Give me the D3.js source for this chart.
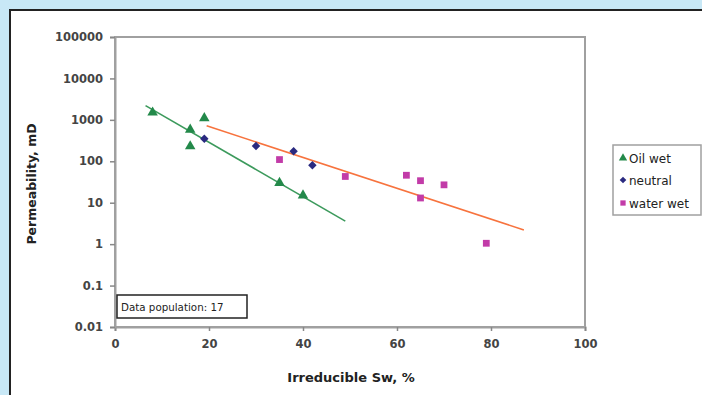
<!DOCTYPE html>
<html><head><meta charset="utf-8">
<script src="https://cdn.jsdelivr.net/npm/d3@7"></script>
<style>body{margin:0;background:#c8e8f6;}svg{display:block;}</style>
</head><body>
<svg id="chart" width="702" height="395"></svg>
<script>
const oilWetX = [8, 16, 16, 19, 35, 40];
const oilWetY = [1500, 580, 230, 1100, 30, 15];
const neutralX = [19, 30, 38, 42];
const neutralY = [350, 235, 175, 80];
const waterWetX = [35, 49, 62, 65, 65, 70, 79];
const waterWetY = [110, 43, 46, 34, 13, 27, 1.05];
const oilTrendX = [6.5, 49];
const oilTrendY = [2200, 3.6];
const waterTrendX = [19.5, 87];
const waterTrendY = [720, 2.2];
const xTicks = [0, 20, 40, 60, 80, 100];
const yTicks = [0.01, 0.1, 1, 10, 100, 1000, 10000, 100000];
const yTickLabels = ["0.01", "0.1", "1", "10", "100", "1000", "10000", "100000"];
const seriesNames = ["Oil wet", "neutral", "water wet"];

const FONT = "DejaVu Sans, Verdana, sans-serif";
const svg = d3.select("#chart");
svg.append("rect").attr("x", 0).attr("y", 0).attr("width", 702).attr("height", 395).attr("fill", "#c8e8f6");
svg.append("rect").attr("x", 10).attr("y", 10).attr("width", 702).attr("height", 400)
  .attr("fill", "#fff").attr("stroke", "#222").attr("stroke-width", 2);

const x = d3.scaleLinear().domain([0, 100]).range([115, 585]);
const y = d3.scaleLog().domain([0.01, 100000]).range([327, 37]);

// plot frame
svg.append("rect").attr("x", 115).attr("y", 37).attr("width", 470).attr("height", 290)
  .attr("fill", "none").attr("stroke", "#a0a0a0").attr("stroke-width", 2);

const xAxis = svg.append("g").attr("transform", "translate(0,327)")
  .call(d3.axisBottom(x).tickValues(xTicks).tickSize(4).tickPadding(9).tickFormat(d3.format("d")));
const yAxis = svg.append("g").attr("transform", "translate(115,0)")
  .call(d3.axisLeft(y).tickValues(yTicks).tickSize(5).tickPadding(7).tickFormat((d, i) => yTickLabels[i]));
[xAxis, yAxis].forEach(a => {
  a.select(".domain").attr("stroke", "#a0a0a0").attr("stroke-width", 2);
  a.selectAll(".tick line").attr("stroke", "#888").attr("stroke-width", 1.5);
  a.selectAll(".tick text").attr("fill", "#444").style("font-family", FONT)
    .style("font-size", "11.5px").style("font-weight", "bold");
});

// trend lines
const line = d3.line().x(d => x(d[0])).y(d => y(d[1]));
svg.append("path").datum(oilTrendX.map((v, i) => [v, oilTrendY[i]]))
  .attr("d", line).attr("stroke", "#3c9a5c").attr("stroke-width", 1.6).attr("fill", "none");
svg.append("path").datum(waterTrendX.map((v, i) => [v, waterTrendY[i]]))
  .attr("d", line).attr("stroke", "#f7733e").attr("stroke-width", 1.6).attr("fill", "none");

const green = "#23894a", navy = "#2a2a80", magenta = "#c23ba8";
const tri = d3.symbol().type(d3.symbolTriangle).size(48);
const dia = d3.symbol().type(d3.symbolSquare).size(36);
const sq = d3.symbol().type(d3.symbolSquare).size(46);

svg.append("g").selectAll("path").data(oilWetX.map((v, i) => [v, oilWetY[i]])).join("path")
  .attr("d", tri).attr("fill", green).attr("transform", d => `translate(${x(d[0])},${y(d[1])})`);
svg.append("g").selectAll("path").data(neutralX.map((v, i) => [v, neutralY[i]])).join("path")
  .attr("d", dia).attr("fill", navy).attr("transform", d => `translate(${x(d[0])},${y(d[1])}) rotate(45)`);
svg.append("g").selectAll("path").data(waterWetX.map((v, i) => [v, waterWetY[i]])).join("path")
  .attr("d", sq).attr("fill", magenta).attr("transform", d => `translate(${x(d[0])},${y(d[1])})`);

// Data population box
svg.append("rect").attr("x", 117).attr("y", 295).attr("width", 130).attr("height", 23)
  .attr("fill", "#fff").attr("stroke", "#222").attr("stroke-width", 1.5);
svg.append("text").attr("x", 121).attr("y", 310.5).text("Data population: 17")
  .style("font-family", FONT).style("font-size", "10.3px").attr("fill", "#222");

// Axis titles
svg.append("text").attr("x", 351).attr("y", 382).attr("text-anchor", "middle")
  .text("Irreducible Sw, %").style("font-family", FONT)
  .style("font-size", "13px").style("font-weight", "bold").attr("fill", "#222");
svg.append("text").attr("transform", "translate(36,184) rotate(-90)").attr("text-anchor", "middle")
  .text("Permeability, mD").style("font-family", FONT)
  .style("font-size", "12.5px").style("font-weight", "bold").attr("fill", "#222");

// Legend
const lg = svg.append("g");
lg.append("rect").attr("x", 613).attr("y", 145).attr("width", 88).attr("height", 70)
  .attr("fill", "#fff").attr("stroke", "#a0a0a0").attr("stroke-width", 1.5);
const legSyms = [d3.symbol().type(d3.symbolTriangle).size(30), d3.symbol().type(d3.symbolSquare).size(22), d3.symbol().type(d3.symbolSquare).size(28)];
const legRot = [0, 45, 0];
const legCols = [green, navy, magenta];
const legY = [158, 180, 203];
seriesNames.forEach((n, i) => {
  lg.append("path").attr("d", legSyms[i]).attr("fill", legCols[i]).attr("transform", `translate(623,${legY[i]}) rotate(${legRot[i]})`);
  lg.append("text").attr("x", 629).attr("y", legY[i] + 4.5).text(n)
    .style("font-family", FONT).style("font-size", "12px").attr("fill", "#222");
});
</script>
</body></html>
